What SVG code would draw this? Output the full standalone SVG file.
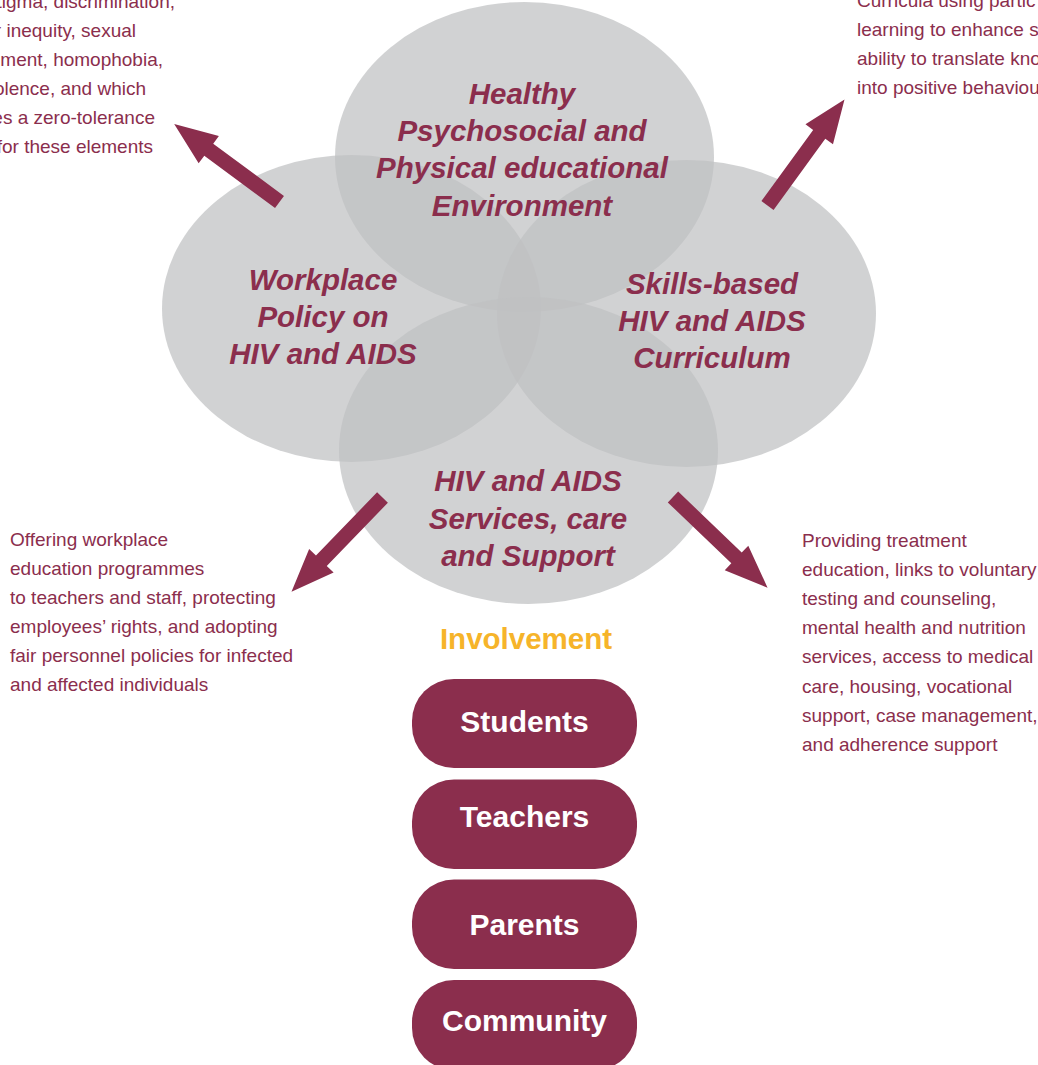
<svg xmlns="http://www.w3.org/2000/svg" width="1038" height="1065" viewBox="0 0 1038 1065">
  <style>
    .bubble { fill: #bfc0c2; fill-opacity: 0.72; }
    .label { font-family: "Liberation Sans", Arial, sans-serif; font-weight: bold; font-style: italic; font-size: 29.5px; fill: #8b2e4d; text-anchor: middle; }
    .note { font-family: "Liberation Sans", Arial, sans-serif; font-size: 19px; fill: #8b2e4d; }
    .pill { fill: #8b2e4d; }
    .pill-text { font-family: "Liberation Sans", Arial, sans-serif; font-weight: bold; font-size: 30px; fill: #ffffff; text-anchor: middle; }
    .arrow { fill: #8b2e4d; }
  </style>
  <defs>
    <!-- block arrow pointing along +x, tail at origin -->
    <polygon id="blockArrow" points="0,-7.5 88,-7.5 88,-17 131,0 88,17 88,7.5 0,7.5"/>
  </defs>
  <rect width="1038" height="1065" fill="#ffffff"/>

  <!-- four overlapping components (translucent discs) -->
  <g id="node-environment">
    <ellipse class="bubble" cx="524.5" cy="157" rx="189.5" ry="155"/>
  </g>
  <g id="node-workplace">
    <ellipse class="bubble" cx="351.5" cy="308.5" rx="189.5" ry="153.5"/>
  </g>
  <g id="node-curriculum">
    <ellipse class="bubble" cx="686.5" cy="313.5" rx="189.5" ry="153.5"/>
  </g>
  <g id="node-services">
    <ellipse class="bubble" cx="528.5" cy="450.5" rx="189.5" ry="153.5"/>
  </g>

  <!-- component titles, kept above every disc -->
  <g id="label-environment">
    <text class="label" x="522" y="104">Healthy</text>
    <text class="label" x="522" y="141">Psychosocial and</text>
    <text class="label" x="522" y="178">Physical educational</text>
    <text class="label" x="522" y="216">Environment</text>
  </g>
  <g id="label-workplace">
    <text class="label" x="323" y="290">Workplace</text>
    <text class="label" x="323" y="327">Policy on</text>
    <text class="label" x="323" y="364">HIV and AIDS</text>
  </g>
  <g id="label-curriculum">
    <text class="label" x="712" y="294">Skills-based</text>
    <text class="label" x="712" y="331">HIV and AIDS</text>
    <text class="label" x="712" y="368">Curriculum</text>
  </g>
  <g id="label-services">
    <text class="label" x="528" y="491">HIV and AIDS</text>
    <text class="label" x="528" y="529">Services, care</text>
    <text class="label" x="528" y="566">and Support</text>
  </g>

  <!-- outward arrows -->
  <g id="connectors">
    <use href="#blockArrow" class="arrow" transform="translate(279.5,202) rotate(216.5)"/>
    <use href="#blockArrow" class="arrow" transform="translate(767.5,205.5) rotate(-54)"/>
    <use href="#blockArrow" class="arrow" transform="translate(382.5,497.5) rotate(134)"/>
    <use href="#blockArrow" class="arrow" transform="translate(673,497) rotate(43.8)"/>
  </g>

  <!-- descriptions -->
  <g id="note-environment" class="note" text-anchor="end">
    <text x="175" y="8">tigma, discrimination,</text>
    <text x="136" y="37">r inequity, sexual</text>
    <text x="163" y="66">ment, homophobia,</text>
    <text x="146" y="95">olence, and which</text>
    <text x="155" y="124">es a zero-tolerance</text>
    <text x="153" y="153">for these elements</text>
  </g>
  <g id="note-curriculum" class="note">
    <text x="857" y="7">Curricula using partic</text>
    <text x="857" y="36">learning to enhance st</text>
    <text x="857" y="65">ability to translate kno</text>
    <text x="857" y="94">into positive behaviou</text>
  </g>
  <g id="note-workplace" class="note">
    <text x="10" y="546">Offering workplace</text>
    <text x="10" y="575">education programmes</text>
    <text x="10" y="604">to teachers and staff, protecting</text>
    <text x="10" y="633">employees’ rights, and adopting</text>
    <text x="10" y="662">fair personnel policies for infected</text>
    <text x="10" y="691">and affected individuals</text>
  </g>
  <g id="note-services" class="note">
    <text x="802" y="547">Providing treatment</text>
    <text x="802" y="576">education, links to voluntary</text>
    <text x="802" y="605">testing and counseling,</text>
    <text x="802" y="634">mental health and nutrition</text>
    <text x="802" y="663">services, access to medical</text>
    <text x="802" y="693">care, housing, vocational</text>
    <text x="802" y="722">support, case management,</text>
    <text x="802" y="751">and adherence support</text>
  </g>

  <!-- involvement -->
  <g id="involvement-title">
    <text x="526" y="649" font-family="Liberation Sans, Arial, sans-serif" font-weight="bold" font-size="29.5" fill="#f6b42a" text-anchor="middle">Involvement</text>
  </g>
  <g id="node-students">
    <rect class="pill" x="412" y="679" width="225" height="89" rx="42" ry="42"/>
    <text class="pill-text" x="524.5" y="732">Students</text>
  </g>
  <g id="node-teachers">
    <rect class="pill" x="412" y="779.5" width="225" height="89.5" rx="42" ry="42"/>
    <text class="pill-text" x="524.5" y="827">Teachers</text>
  </g>
  <g id="node-parents">
    <rect class="pill" x="412" y="879.5" width="225" height="89.5" rx="42" ry="42"/>
    <text class="pill-text" x="524.5" y="935">Parents</text>
  </g>
  <g id="node-community">
    <rect class="pill" x="412" y="980" width="225" height="90" rx="42" ry="42"/>
    <text class="pill-text" x="524.5" y="1031">Community</text>
  </g>
</svg>
